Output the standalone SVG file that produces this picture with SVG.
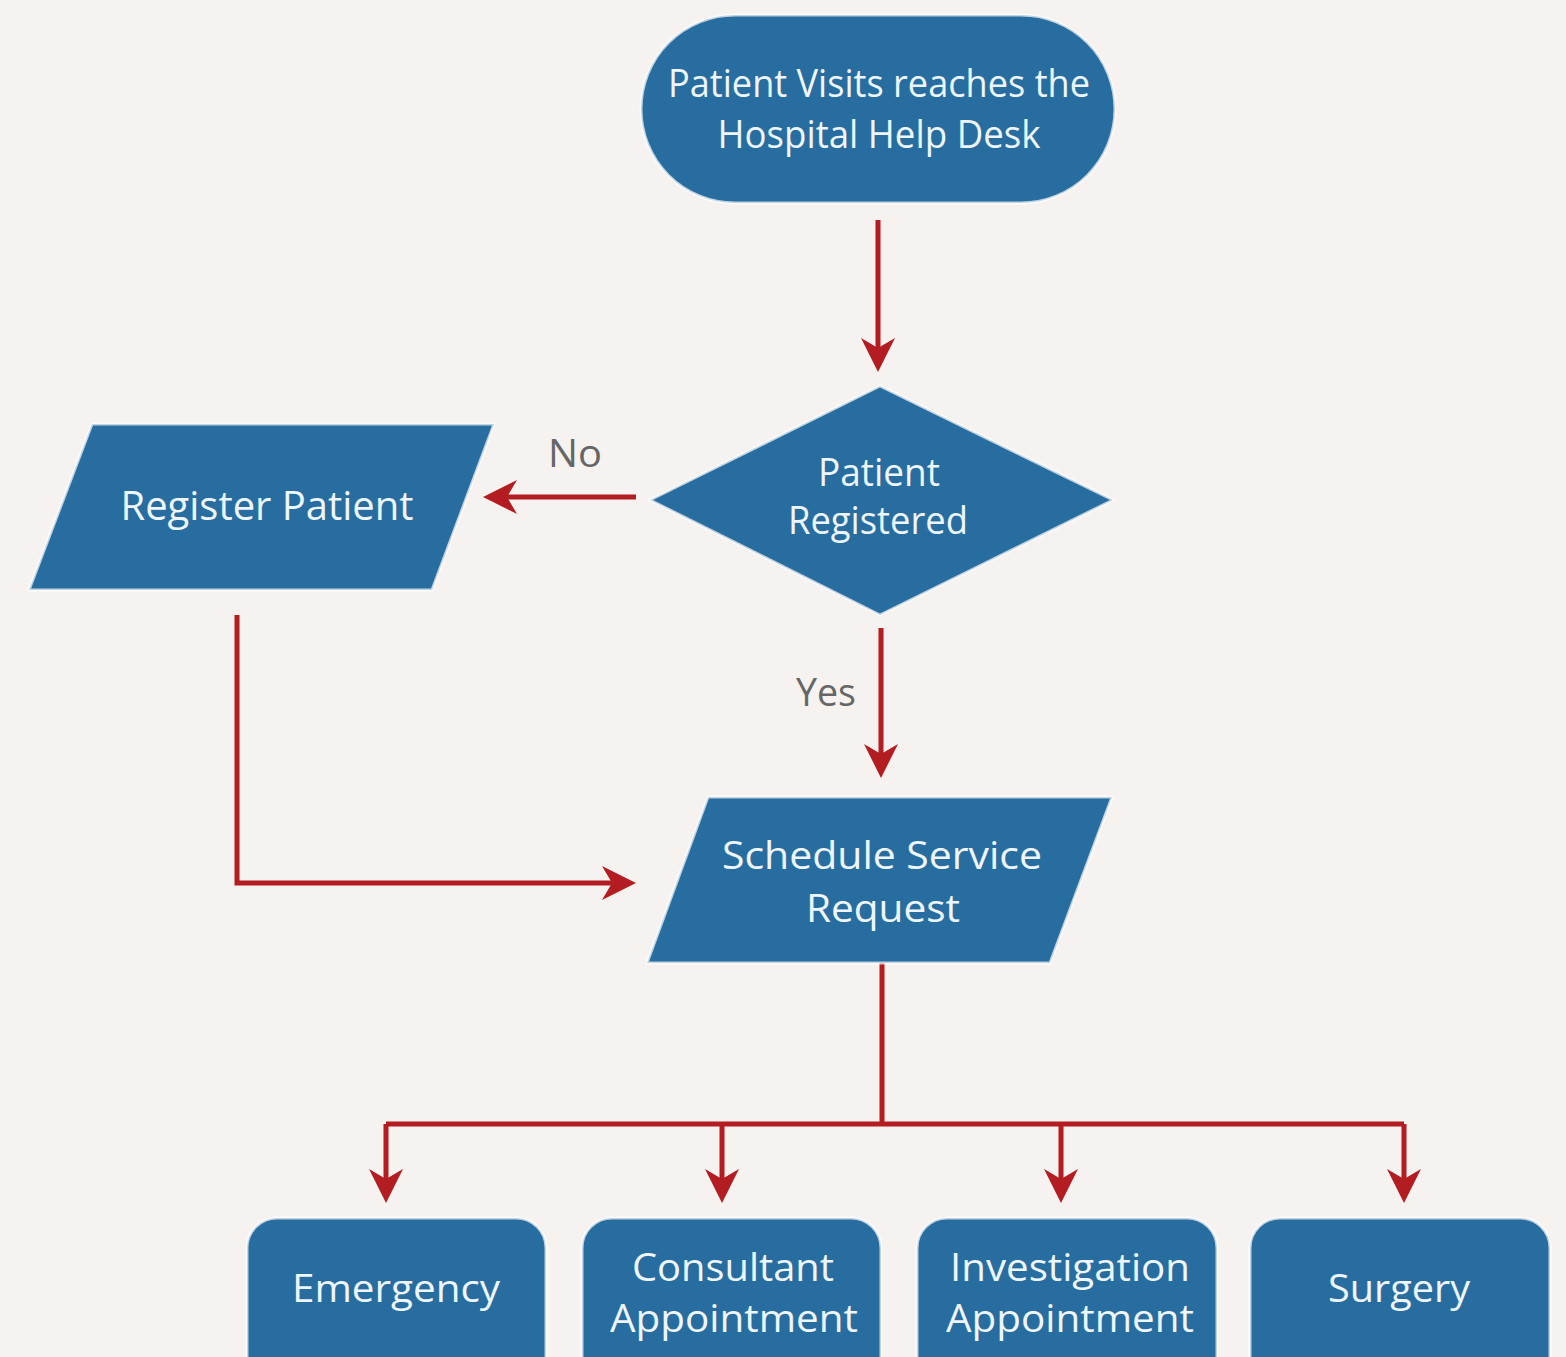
<svg xmlns="http://www.w3.org/2000/svg" width="1566" height="1357" viewBox="0 0 1566 1357">
<defs>
<style>
.node{fill:#286d9f;stroke:#ffffff;stroke-opacity:0.7;stroke-width:3}
.t{font-family:"Open Sans","Noto Sans","Liberation Sans",sans-serif;font-size:39px;fill:#eef6fc;text-anchor:middle}
.big{font-size:41px}
.lbl{font-family:"Open Sans","Noto Sans","Liberation Sans",sans-serif;font-size:38px;fill:#666666;text-anchor:middle}
.c{fill:none;stroke:#b31c20;stroke-width:5}
</style>
<marker id="ah" markerUnits="userSpaceOnUse" viewBox="-36 -19 38 38" markerWidth="38" markerHeight="38" refX="-10" refY="0" orient="auto">
<path d="M0,0 L-34,-17 L-24,0 L-34,17 Z" fill="#b31c20"/>
</marker>
</defs>
<rect width="1566" height="1357" fill="#f6f2ef"/>
<g id="connectors">
<path class="c" d="M878,220 V362" marker-end="url(#ah)"/>
<path class="c" d="M636,497 H493" marker-end="url(#ah)"/>
<path class="c" d="M881,628 V768" marker-end="url(#ah)"/>
<path class="c" d="M237,615 V883 H626" marker-end="url(#ah)"/>
<path class="c" d="M882,963 V1124"/>
<path class="c" d="M386,1124 H1404"/>
<path class="c" d="M386,1124 V1193" marker-end="url(#ah)"/>
<path class="c" d="M722,1124 V1193" marker-end="url(#ah)"/>
<path class="c" d="M1061,1124 V1193" marker-end="url(#ah)"/>
<path class="c" d="M1404,1124 V1193" marker-end="url(#ah)"/>
<text class="lbl" x="575" y="467" textLength="54" lengthAdjust="spacingAndGlyphs">No</text>
<text class="lbl" x="826" y="706" textLength="60" lengthAdjust="spacingAndGlyphs">Yes</text>
</g>
<g id="start">
<rect class="node" x="641" y="15" width="474" height="188" rx="94"/>
<text class="t" x="879" y="97" textLength="422" lengthAdjust="spacingAndGlyphs">Patient Visits reaches the</text>
<text class="t" x="879" y="148" textLength="323" lengthAdjust="spacingAndGlyphs">Hospital Help Desk</text>
</g>
<g id="decision">
<polygon class="node" points="650,500 880,386 1113,500 880,615"/>
<text class="t" x="879" y="486" textLength="122" lengthAdjust="spacingAndGlyphs">Patient</text>
<text class="t" x="878" y="534" textLength="180" lengthAdjust="spacingAndGlyphs">Registered</text>
</g>
<g id="register">
<polygon class="node" points="92,424 494,424 432,590 29,590"/>
<text class="t big" x="267" y="520" textLength="293" lengthAdjust="spacingAndGlyphs">Register Patient</text>
</g>
<g id="schedule">
<polygon class="node" points="708,797 1112,797 1050,963 647,963"/>
<text class="t" x="882" y="869" textLength="320" lengthAdjust="spacingAndGlyphs">Schedule Service</text>
<text class="t" x="883" y="922" textLength="154" lengthAdjust="spacingAndGlyphs">Request</text>
</g>
<g id="emergency">
<rect class="node" x="247" y="1218" width="299" height="175" rx="30"/>
<text class="t" x="396" y="1302" textLength="208" lengthAdjust="spacingAndGlyphs">Emergency</text>
</g>
<g id="consultant">
<rect class="node" x="582" y="1218" width="299" height="175" rx="30"/>
<text class="t" x="733" y="1281" textLength="202" lengthAdjust="spacingAndGlyphs">Consultant</text>
<text class="t" x="734" y="1332" textLength="248" lengthAdjust="spacingAndGlyphs">Appointment</text>
</g>
<g id="investigation">
<rect class="node" x="917" y="1218" width="300" height="175" rx="30"/>
<text class="t" x="1070" y="1281" textLength="240" lengthAdjust="spacingAndGlyphs">Investigation</text>
<text class="t" x="1070" y="1332" textLength="248" lengthAdjust="spacingAndGlyphs">Appointment</text>
</g>
<g id="surgery">
<rect class="node" x="1250" y="1218" width="300" height="175" rx="30"/>
<text class="t" x="1399" y="1302" textLength="142" lengthAdjust="spacingAndGlyphs">Surgery</text>
</g>
</svg>
